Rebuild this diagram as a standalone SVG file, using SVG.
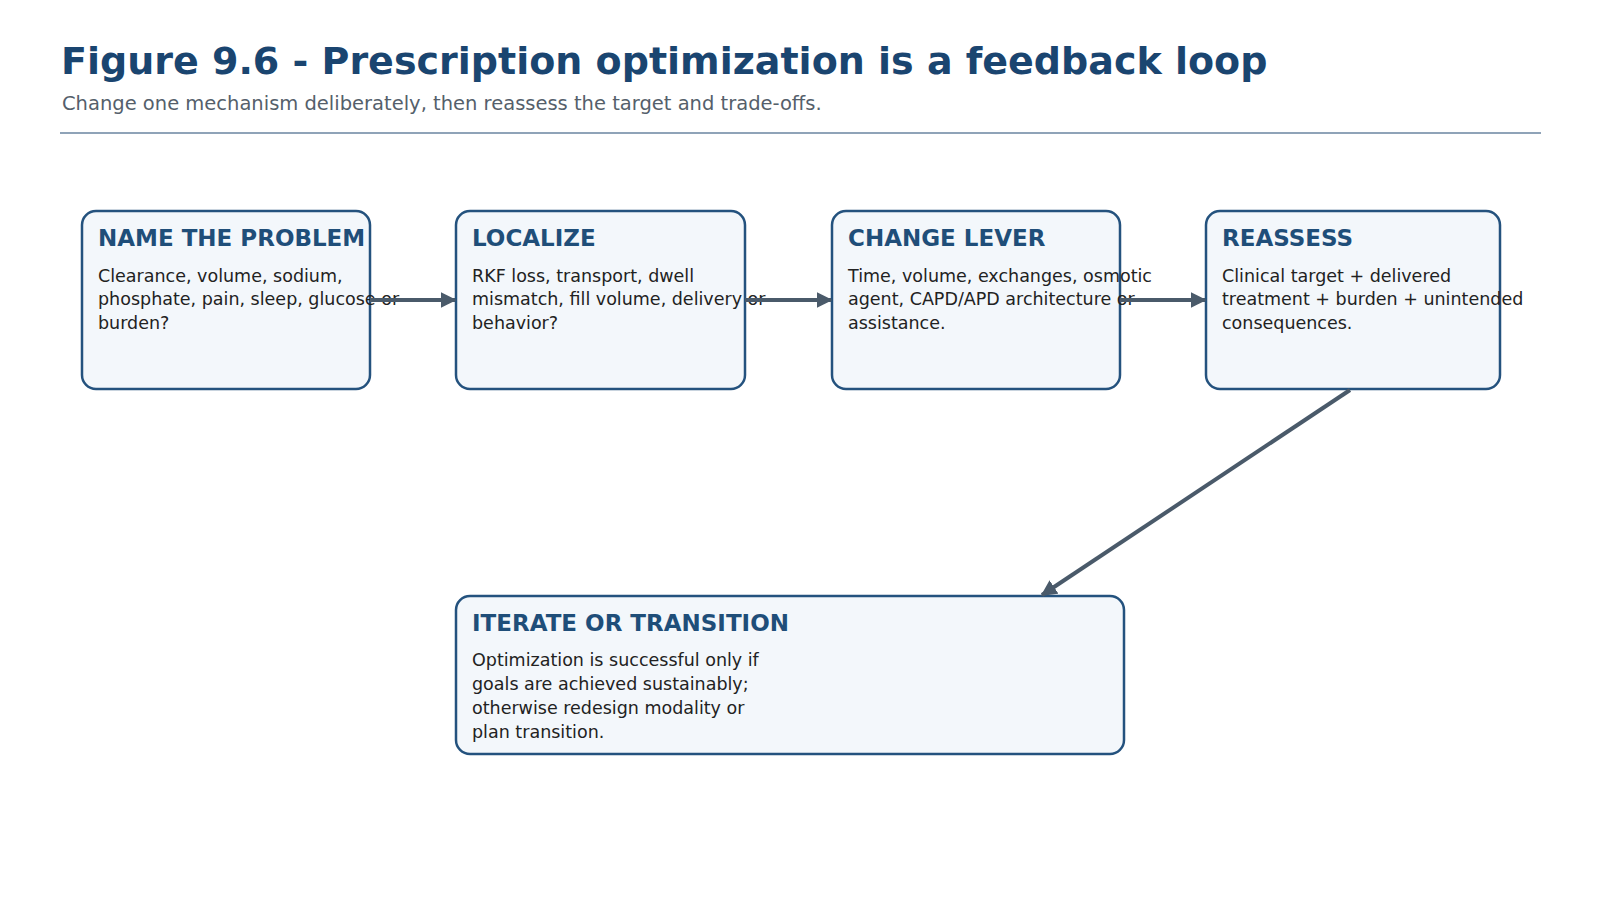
<svg xmlns="http://www.w3.org/2000/svg" width="1600" height="900" viewBox="0 0 1600 900">
<style>
.box{fill:#f3f7fb;stroke:#24527e;stroke-width:2.5}
.h{font-family:"DejaVu Sans",sans-serif;font-weight:bold;font-size:23px;fill:#1f4e79}
.b{font-family:"DejaVu Sans",sans-serif;font-size:17.5px;fill:#222}
.c{stroke:#4a5a6a;stroke-width:4;fill:none;marker-end:url(#ah)}
</style>
<defs><marker id="ah" viewBox="0 0 10 10" refX="9" refY="5" markerWidth="4" markerHeight="4" orient="auto"><path d="M0,0L10,5L0,10z" fill="#4a5a6a"/></marker></defs>
<rect width="1600" height="900" fill="#fff"/>
<text x="61" y="74" font-family="DejaVu Sans,sans-serif" font-weight="bold" font-size="38" fill="#1a4570">Figure 9.6 - Prescription optimization is a feedback loop</text>
<text x="62" y="110" font-family="DejaVu Sans,sans-serif" font-size="19.5" fill="#555f6b">Change one mechanism deliberately, then reassess the target and trade-offs.</text>
<line x1="60" y1="133" x2="1541" y2="133" stroke="#8fa3b8" stroke-width="2"/>
<g id="n1"><rect class="box" x="82" y="211" width="288" height="178" rx="14"/><text class="h" x="98" y="246">NAME THE PROBLEM</text><text class="b" x="98" y="282">Clearance, volume, sodium,</text><text class="b" x="98" y="305">phosphate, pain, sleep, glucose or</text><text class="b" x="98" y="329">burden?</text></g>
<g id="n2"><rect class="box" x="456" y="211" width="289" height="178" rx="14"/><text class="h" x="472" y="246">LOCALIZE</text><text class="b" x="472" y="282">RKF loss, transport, dwell</text><text class="b" x="472" y="305">mismatch, fill volume, delivery or</text><text class="b" x="472" y="329">behavior?</text></g>
<g id="n3"><rect class="box" x="832" y="211" width="288" height="178" rx="14"/><text class="h" x="848" y="246">CHANGE LEVER</text><text class="b" x="848" y="282">Time, volume, exchanges, osmotic</text><text class="b" x="848" y="305">agent, CAPD/APD architecture or</text><text class="b" x="848" y="329">assistance.</text></g>
<g id="n4"><rect class="box" x="1206" y="211" width="294" height="178" rx="14"/><text class="h" x="1222" y="246">REASSESS</text><text class="b" x="1222" y="282">Clinical target + delivered</text><text class="b" x="1222" y="305">treatment + burden + unintended</text><text class="b" x="1222" y="329">consequences.</text></g>
<g id="n5"><rect class="box" x="456" y="596" width="668" height="158" rx="14"/><text class="h" x="472" y="631">ITERATE OR TRANSITION</text><text class="b" x="472" y="666">Optimization is successful only if</text><text class="b" x="472" y="690">goals are achieved sustainably;</text><text class="b" x="472" y="714">otherwise redesign modality or</text><text class="b" x="472" y="738">plan transition.</text></g>
<g id="connectors">
<line class="c" x1="370" y1="300" x2="455" y2="300"/>
<line class="c" x1="745" y1="300" x2="831" y2="300"/>
<line class="c" x1="1120" y1="300" x2="1205" y2="300"/>
<line class="c" x1="1350" y1="390" x2="1042" y2="595"/>
</g>
</svg>
